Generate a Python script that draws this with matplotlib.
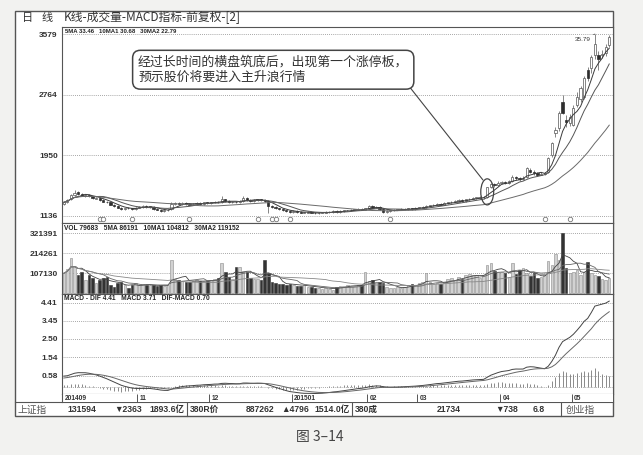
import numpy as np
import pandas as pd
import matplotlib
matplotlib.use("Agg")
import matplotlib.pyplot as plt
from matplotlib.patches import Rectangle, Ellipse

plt.rcParams['font.family'] = ['Liberation Sans', 'Noto Sans CJK SC', 'DejaVu Sans']
CJK = ['Noto Sans CJK SC', 'DejaVu Sans']
MIXED = ['Liberation Sans', 'Noto Sans CJK SC', 'DejaVu Sans']

# ---------------- data ----------------
open_px = [
    13.0, 13.2, 13.6, 14.2, 14.6, 14.3, 14.0, 14.2, 14.0, 13.7,
    13.8, 13.5, 13.3, 13.2, 12.9, 12.7, 12.5, 12.3, 12.5, 12.4,
    12.3, 12.5, 12.6, 12.7, 12.6, 12.6, 12.3, 12.2, 12.0, 12.1,
    12.3, 13.0, 13.1, 13.0, 13.1, 13.0, 12.9, 13.0, 13.1, 13.0,
    13.2, 13.1, 13.2, 13.3, 13.2, 13.6, 13.4, 13.2, 13.3, 13.2,
    13.4, 13.8, 13.5, 13.4, 13.5, 13.6, 13.5, 13.4, 12.7, 12.6,
    12.4, 12.3, 12.1, 12.0, 11.9, 12.0, 11.9, 11.8, 11.8, 11.9,
    11.8, 11.7, 11.8, 11.8, 11.9, 11.9, 12.0, 11.9, 12.0, 12.1,
    12.1, 12.2, 12.2, 12.3, 12.2, 12.4, 12.7, 12.5, 12.6, 12.3,
    11.9, 12.0, 12.1, 12.2, 12.2, 12.3, 12.3, 12.4, 12.3, 12.5,
    12.5, 12.6, 12.7, 12.8, 12.9, 13.0, 12.9, 13.1, 13.2, 13.3,
    13.3, 13.5, 13.4, 13.6, 13.7, 13.8, 13.8, 13.9, 13.9, 15.3,
    15.6, 15.5, 15.8, 15.9, 15.8, 16.0, 16.6, 16.4, 16.3, 16.6,
    17.6, 17.3, 17.1, 16.9, 17.0, 17.3, 19.5, 22.5, 23.2, 26.6,
    24.3, 23.8, 23.6, 26.3, 27.0, 27.3, 31.0, 31.2, 33.0, 33.0,
    33.0, 33.2, 34.3,
]
close_px = [
    13.2, 13.5, 14.2, 14.5, 14.3, 14.1, 14.2, 14.0, 13.8, 13.8,
    13.5, 13.3, 13.2, 12.9, 12.7, 12.5, 12.3, 12.4, 12.4, 12.3,
    12.5, 12.6, 12.7, 12.6, 12.6, 12.3, 12.2, 12.0, 12.1, 12.2,
    13.0, 13.1, 13.0, 13.1, 13.0, 12.9, 13.0, 13.1, 13.0, 13.2,
    13.1, 13.2, 13.3, 13.2, 13.6, 13.4, 13.2, 13.3, 13.2, 13.4,
    13.8, 13.5, 13.4, 13.5, 13.6, 13.5, 13.4, 12.7, 12.6, 12.4,
    12.3, 12.1, 12.0, 11.9, 12.0, 11.9, 11.8, 11.8, 11.9, 11.8,
    11.7, 11.8, 11.8, 11.9, 11.9, 12.0, 11.9, 12.0, 12.1, 12.1,
    12.2, 12.2, 12.3, 12.2, 12.4, 12.7, 12.5, 12.6, 12.3, 11.9,
    12.0, 12.1, 12.2, 12.2, 12.3, 12.3, 12.4, 12.3, 12.5, 12.5,
    12.6, 12.7, 12.8, 12.9, 13.0, 12.9, 13.1, 13.2, 13.3, 13.3,
    13.5, 13.4, 13.6, 13.7, 13.8, 13.8, 13.9, 13.9, 15.3, 15.6,
    15.5, 15.8, 15.9, 15.8, 16.0, 16.6, 16.4, 16.3, 16.5, 17.8,
    17.3, 17.1, 16.9, 17.0, 17.1, 19.1, 21.2, 22.9, 25.2, 25.2,
    24.0, 24.6, 25.9, 27.3, 28.5, 29.9, 29.9, 32.7, 34.5, 32.4,
    33.1, 34.0, 35.4,
]
high_px = [
    13.3, 13.6, 14.3, 14.8, 14.7, 14.4, 14.3, 14.3, 14.1, 13.9,
    13.9, 13.6, 13.4, 13.3, 13.0, 12.8, 12.6, 12.5, 12.6, 12.5,
    12.6, 12.7, 12.8, 12.8, 12.7, 12.7, 12.4, 12.3, 12.2, 12.3,
    13.2, 13.3, 13.2, 13.2, 13.2, 13.1, 13.1, 13.2, 13.2, 13.3,
    13.3, 13.3, 13.4, 13.4, 14.0, 13.7, 13.5, 13.4, 13.4, 13.5,
    14.0, 13.9, 13.6, 13.6, 13.7, 13.7, 13.6, 13.5, 12.9, 12.7,
    12.5, 12.4, 12.2, 12.1, 12.1, 12.1, 12.0, 11.9, 12.0, 12.0,
    11.9, 11.9, 11.9, 12.0, 12.0, 12.1, 12.1, 12.1, 12.2, 12.2,
    12.3, 12.3, 12.4, 12.4, 12.5, 12.9, 12.8, 12.7, 12.7, 12.4,
    12.1, 12.2, 12.3, 12.3, 12.4, 12.4, 12.5, 12.5, 12.6, 12.6,
    12.7, 12.8, 12.9, 13.0, 13.1, 13.1, 13.2, 13.3, 13.4, 13.5,
    13.6, 13.6, 13.7, 13.8, 13.9, 13.9, 14.0, 14.1, 15.3, 15.8,
    15.8, 16.0, 16.1, 16.1, 16.2, 16.8, 16.7, 16.6, 16.7, 18.0,
    17.8, 17.5, 17.3, 17.2, 17.3, 19.3, 21.3, 23.3, 25.5, 27.6,
    24.9, 25.0, 26.2, 28.0, 28.8, 30.2, 31.3, 33.0, 35.79, 33.5,
    33.6, 34.5, 35.6,
]
low_px = [
    12.9, 13.1, 13.5, 14.1, 14.2, 14.0, 13.9, 13.9, 13.7, 13.6,
    13.4, 13.2, 13.1, 12.8, 12.6, 12.4, 12.2, 12.2, 12.3, 12.2,
    12.2, 12.4, 12.5, 12.5, 12.5, 12.2, 12.1, 11.9, 11.9, 12.0,
    12.2, 12.9, 12.9, 12.9, 12.9, 12.8, 12.8, 12.9, 12.9, 12.9,
    13.0, 13.0, 13.1, 13.1, 13.1, 13.3, 13.1, 13.1, 13.1, 13.1,
    13.3, 13.4, 13.3, 13.3, 13.4, 13.4, 13.3, 11.8, 12.5, 12.3,
    12.2, 12.0, 11.9, 11.8, 11.8, 11.8, 11.7, 11.7, 11.7, 11.7,
    11.6, 11.6, 11.7, 11.7, 11.8, 11.8, 11.8, 11.8, 11.9, 12.0,
    12.0, 12.1, 12.1, 12.1, 12.1, 12.3, 12.4, 12.4, 12.2, 11.8,
    11.8, 11.9, 12.0, 12.1, 12.1, 12.2, 12.2, 12.2, 12.2, 12.4,
    12.4, 12.5, 12.6, 12.7, 12.8, 12.8, 12.8, 13.0, 13.1, 13.2,
    13.2, 13.3, 13.3, 13.5, 13.6, 13.6, 13.7, 13.7, 13.8, 15.1,
    15.3, 15.4, 15.6, 15.6, 15.7, 15.9, 16.2, 16.1, 16.2, 16.5,
    17.1, 16.9, 16.7, 16.8, 16.9, 17.1, 19.3, 22.0, 22.8, 25.0,
    23.3, 23.5, 23.4, 26.0, 26.6, 27.0, 29.5, 30.5, 32.5, 31.0,
    32.6, 32.8, 34.0,
]
# volume in thousands of shares
volume_k = [
    107, 128, 187, 145, 96, 112, 70, 96, 80, 54,
    70, 80, 86, 43, 32, 54, 59, 43, 27, 43,
    54, 43, 48, 43, 43, 43, 40, 45, 38, 44,
    177, 75, 70, 68, 62, 60, 65, 70, 66, 63,
    68, 72, 75, 80, 160, 112, 86, 78, 139, 139,
    118, 112, 80, 75, 78, 72, 177, 107, 60, 55,
    50, 48, 45, 52, 45, 40, 38, 42, 35, 33,
    30, 28, 25, 30, 22, 20, 32, 38, 40, 42,
    40, 38, 45, 42, 112, 65, 70, 58, 62, 55,
    35, 30, 28, 32, 26, 35, 45, 50, 42, 55,
    60, 107, 58, 52, 55, 50, 60, 75, 80, 70,
    85, 78, 100, 102, 98, 96, 80, 100, 150, 160,
    118, 112, 115, 110, 86, 160, 102, 125, 134, 107,
    90, 107, 80, 86, 95, 171, 150, 209, 177, 321.4,
    134, 107, 115, 123, 96, 115, 166, 110, 96, 90,
    75, 70, 79.7,
]

month_start = [0, 21, 41, 64, 85, 99, 122, 142]
month_labels = ['201409', '11', '12', '201501', '02', '03', '04', '05']
event_idx = [10, 11, 19, 35, 54, 58, 59, 63, 91, 134, 141]
limit_up_idx = 118

price_ticks = [11.36, 19.50, 27.64, 35.79]
price_labels = ['1136', '1950', '2764', '3579']
vol_ticks = [107130, 214261, 321391]
vol_labels = ['107130', '214261', '321391']
macd_ticks = [0.58, 1.54, 2.50, 3.45, 4.41]
macd_labels = ['0.58', '1.54', '2.50', '3.45', '4.41']

price_header = '5MA 33.46   10MA1 30.68   30MA2 22.79'
vol_header = 'VOL 79683   5MA 86191   10MA1 104812   30MA2 119152'
macd_header = 'MACD - DIF 4.41   MACD 3.71   DIF-MACD 0.70'
note_text = '经过长时间的横盘筑底后，出现第一个涨停板，\n预示股价将要进入主升浪行情'

status_items = [
    (18, '上证指'), (67, '131594'), (114, '▼2363'), (149, '1893.6亿'),
    (190, '380R价'), (246, '887262'), (281, '▲4796'), (314, '1514.0亿'),
    (355, '380成'), (437, '21734'), (495, '▼738'), (533, '6.8'), (566, '创业指'),
]
status_seps = [187, 352, 561]

o = np.array(open_px)
c = np.array(close_px)
hi = np.array(high_px)
lo = np.array(low_px)
vol = np.array(volume_k) * 1000
N = len(c)
x = np.arange(N)
up = c >= o

# ---------------- figure / layout ----------------
W, H = 643, 455
fig = plt.figure(figsize=(W / 100, H / 100), dpi=100, facecolor='#f2f2f0')


def px_axes(x0, y0, x1, y1):
    return fig.add_axes([x0 / W, 1 - y1 / H, (x1 - x0) / W, (y1 - y0) / H])


bg = fig.add_axes([0, 0, 1, 1])
bg.set_xlim(0, W)
bg.set_ylim(H, 0)
bg.axis('off')
bg.add_patch(Rectangle((15, 11), 598, 405, fc='white', ec='#555', lw=1.0))
bg.plot([15, 613], [402, 402], color='#555', lw=0.8)

bg.text(22, 18, '日', family=CJK, fontsize=8, color='#333', va='center')
bg.text(42, 18, '线', family=CJK, fontsize=8, color='#333', va='center')
bg.text(64, 18, 'K线-成交量-MACD指标-前复权-[2]', family=CJK, fontsize=8.5,
        color='#333', va='center')

for sx, s in status_items:
    is_name = s in ('上证指', '创业指')
    bg.text(sx, 409.5, s, family=CJK if is_name else MIXED,
            fontsize=7 if is_name else 6.2,
            fontweight='normal' if is_name else 'bold',
            color='#555' if is_name else '#333', va='center')
for sx in status_seps:
    bg.plot([sx, sx], [402, 416], color='#555', lw=0.8)

bg.text(320, 437, '图 3–14', family=CJK, fontsize=10, color='#444', ha='center', va='center')

ax1 = px_axes(62, 27, 613, 223)
ax2 = px_axes(62, 223, 613, 294)
ax3 = px_axes(62, 294, 613, 394)
ax4 = px_axes(62, 394, 613, 402)


def style(ax, ticks, labels):
    ax.set_xlim(-0.5, N + 0.05)
    ax.set_xticks([])
    ax.set_yticks(ticks)
    ax.set_yticklabels(labels, fontsize=6, fontweight='bold', color='#333')
    ax.tick_params(axis='y', length=0, pad=3)
    for sp in ax.spines.values():
        sp.set_color('#555')
        sp.set_linewidth(0.8)
    for t in ticks:
        ax.axhline(t, color='#8a8a8a', lw=0.6, ls=(0, (1, 1.5)), zorder=0)


# --- price panel ---
style(ax1, price_ticks, price_labels)
ax1.set_ylim(10.42, 36.73)
ax1.vlines(x, lo, hi, color='#555', lw=0.5, zorder=2)
body_b = np.minimum(o, c)
body_h = np.maximum(np.abs(c - o), 0.05)
ax1.bar(x[up], body_h[up], bottom=body_b[up], width=0.62, facecolor='white',
        edgecolor='#555', lw=0.5, zorder=3)
ax1.bar(x[~up], body_h[~up], bottom=body_b[~up], width=0.62, facecolor='#2e2e2e',
        edgecolor='#2e2e2e', lw=0.5, zorder=3)
cs = pd.Series(c)
for win, col in [(5, '#3a3a3a'), (10, '#555555'), (30, '#6a6a6a')]:
    ax1.plot(x, cs.rolling(win, min_periods=1).mean(), color=col, lw=0.7, zorder=4)

ax1.text(0.005, 0.992, price_header, transform=ax1.transAxes, fontsize=4.3,
         fontweight='bold', va='top', ha='left', color='#222')

imax = int(np.argmax(hi))
ax1.annotate(f'{hi[imax]:.2f}', xy=(imax, hi[imax]), xytext=(-3, -2.5),
             textcoords='offset points', ha='right', va='top', fontsize=4.6,
             color='#333', arrowprops=dict(arrowstyle='-', lw=0.5, color='#444',
                                           shrinkA=0, shrinkB=0))

ax1.plot(event_idx, [0.018] * len(event_idx), 'o', ms=3.2, mfc='white', mec='#777',
         mew=0.6, transform=ax1.get_xaxis_transform(), clip_on=False, zorder=5)

ax1.text(0.138, 0.782, note_text, transform=ax1.transAxes, family=CJK, fontsize=9.3,
         color='#333', va='center', ha='left', linespacing=1.2, zorder=6,
         bbox=dict(boxstyle='round,pad=0.42,rounding_size=0.6', fc='white',
                   ec='#444', lw=1.1))
ell_y = (o[limit_up_idx] + c[limit_up_idx]) / 2
ax1.add_patch(Ellipse((limit_up_idx, ell_y), 3.6, 3.5, fill=False, ec='#444', lw=0.9,
                      zorder=5))
ax1.annotate('', xy=(limit_up_idx - 1.2, ell_y + 1.6), xycoords='data',
             xytext=(0.632, 0.69), textcoords='axes fraction',
             arrowprops=dict(arrowstyle='-', color='#444', lw=0.8, shrinkA=0, shrinkB=0))

# --- volume panel ---
style(ax2, vol_ticks, vol_labels)
ax2.set_ylim(-4000, 375000)
ax2.bar(x[up], vol[up], width=0.7, facecolor='#d2d2d2', edgecolor='#8a8a8a', lw=0.4,
        zorder=2)
ax2.bar(x[~up], vol[~up], width=0.7, facecolor='#333333', edgecolor='#333333', lw=0.4,
        zorder=2)
vs = pd.Series(vol)
for win, col in [(5, '#444'), (10, '#666'), (30, '#888')]:
    ax2.plot(x, vs.rolling(win, min_periods=1).mean(), color=col, lw=0.6, zorder=3)
ax2.text(0.004, 0.975, vol_header, transform=ax2.transAxes, fontsize=4.8,
         fontweight='bold', va='top', ha='left', color='#222')


# --- MACD panel ---
def ema(values, span, start):
    a = 2 / (span + 1)
    out = [start]
    for v in values[1:]:
        out.append(out[-1] + a * (v - out[-1]))
    return np.array(out)


dif = ema(c, 12, c[0] - 0.45) - ema(c, 26, c[0] - 1.0)
dea = ema(dif, 9, 0.45)
hist = dif - dea

style(ax3, macd_ticks, macd_labels)
ax3.set_ylim(-0.39, 4.86)
ax3.axhline(0, color='#8a8a8a', lw=0.6, ls=(0, (1, 1.5)), zorder=0)
ax3.vlines(x, 0, hist, color='#777', lw=0.6, zorder=2)
ax3.plot(x, dif, color='#444', lw=0.7, zorder=3)
ax3.plot(x, dea, color='#666', lw=0.7, zorder=3)
ax3.text(0.004, 0.985, macd_header, transform=ax3.transAxes, fontsize=4.8,
         fontweight='bold', va='top', ha='left', color='#222')

# --- date row ---
ax4.set_xlim(-0.5, N + 0.05)
ax4.set_ylim(0, 1)
ax4.set_xticks([])
ax4.set_yticks([])
for sp in ax4.spines.values():
    sp.set_color('#555')
    sp.set_linewidth(0.8)
ax4.spines['top'].set_visible(False)
ax4.spines['right'].set_visible(False)
ax4.spines['bottom'].set_visible(False)
for ms, lab in zip(month_start, month_labels):
    ax4.vlines(ms - 0.5, 0, 1, color='#555', lw=0.7)
    ax4.text(ms + 0.2, 0.45, lab, fontsize=4.8, fontweight='bold', color='#333',
             va='center', ha='left')

fig.savefig('out.png', dpi=100, facecolor=fig.get_facecolor())
